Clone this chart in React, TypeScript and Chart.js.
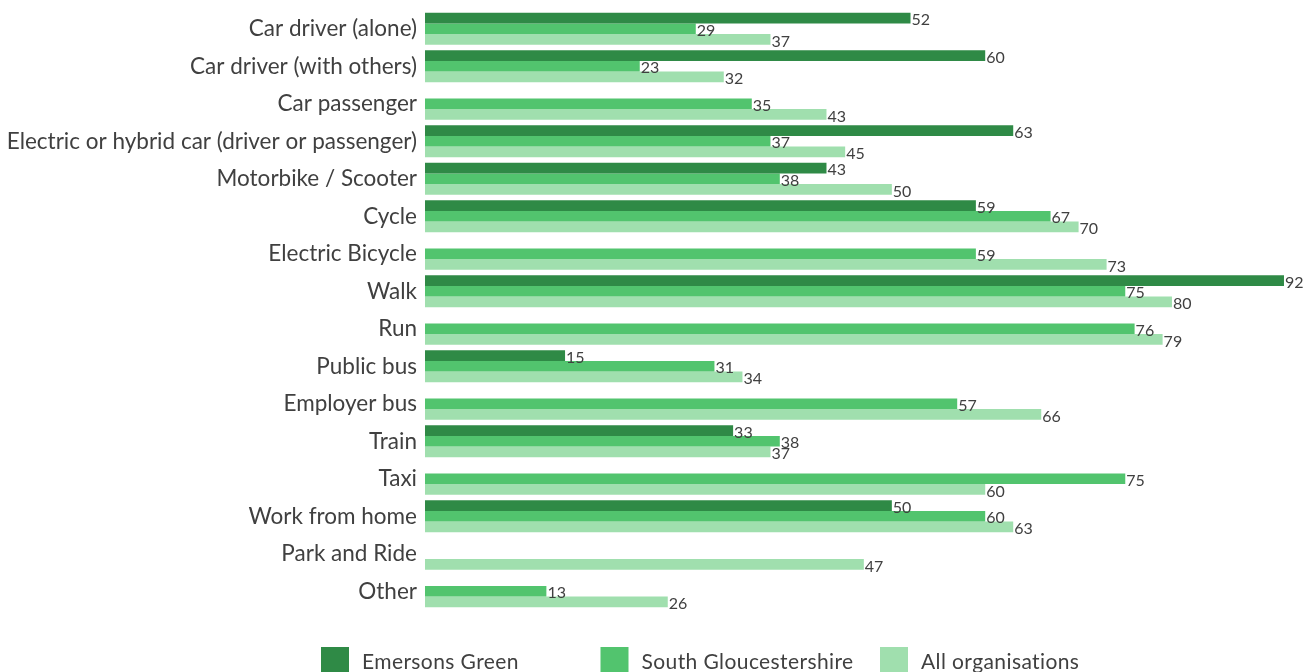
import React, { useEffect, useRef } from "react";
import { Chart, registerables } from "chart.js";

Chart.register(...registerables);

const categories: string[] = [
  "Car driver (alone)",
  "Car driver (with others)",
  "Car passenger",
  "Electric or hybrid car (driver or passenger)",
  "Motorbike / Scooter",
  "Cycle",
  "Electric Bicycle",
  "Walk",
  "Run",
  "Public bus",
  "Employer bus",
  "Train",
  "Taxi",
  "Work from home",
  "Park and Ride",
  "Other",
];

const emersonsGreen: (number | null)[] = [52, 60, null, 63, 43, 59, null, 92, null, 15, null, 33, null, 50, null, null];
const southGlos: (number | null)[] = [29, 23, 35, 37, 38, 67, 59, 75, 76, 31, 57, 38, 75, 60, null, 13];
const allOrgs: (number | null)[] = [37, 32, 43, 45, 50, 70, 73, 80, 79, 34, 66, 37, 60, 63, 47, 26];

const seriesNames = ["Emersons Green", "South Gloucestershire", "All organisations"];
const seriesColors = ["#2F8A46", "#52C46E", "#A0DFAE"];

const FONT = "Lato, 'Noto Sans', sans-serif";
const TEXT = "#404040";

const valueLabels = {
  id: "valueLabels",
  afterDatasetsDraw(chart: any) {
    const ctx = chart.ctx;
    ctx.save();
    ctx.font = `16px ${FONT}`;
    ctx.fillStyle = TEXT;
    ctx.textAlign = "left";
    ctx.textBaseline = "middle";
    chart.data.datasets.forEach((ds: any, di: number) => {
      const meta = chart.getDatasetMeta(di);
      meta.data.forEach((el: any, i: number) => {
        const v = ds.data[i];
        if (v === null || v === undefined) return;
        ctx.fillText(String(v), el.x + 1, el.y + 2);
      });
    });
    ctx.restore();
  },
};

const bottomLegend = {
  id: "bottomLegend",
  afterDraw(chart: any) {
    const ctx = chart.ctx;
    ctx.save();
    const x0 = 321;
    const step = 279.5;
    const top = 647;
    ctx.font = `21px ${FONT}`;
    ctx.textBaseline = "middle";
    ctx.textAlign = "left";
    try {
      (ctx as any).letterSpacing = "0.4px";
    } catch (e) {}
    chart.data.datasets.forEach((ds: any, i: number) => {
      const x = x0 + step * i;
      ctx.fillStyle = ds.backgroundColor;
      ctx.fillRect(x, top, 28, 28);
      ctx.fillStyle = TEXT;
      ctx.fillText(ds.label, x + 41, 662);
    });
    ctx.restore();
  },
};

export default function App() {
  const ref = useRef<HTMLCanvasElement | null>(null);
  useEffect(() => {
    if (!ref.current) return;
    const chart = new Chart(ref.current, {
      type: "bar",
      data: {
        labels: categories,
        datasets: [emersonsGreen, southGlos, allOrgs].map((d, i) => ({
          label: seriesNames[i],
          data: d,
          backgroundColor: seriesColors[i],
          borderWidth: 0,
          categoryPercentage: 0.85,
          barPercentage: 1.0,
        })),
      },
      options: {
        indexAxis: "y",
        animation: false,
        responsive: false,
        maintainAspectRatio: false,
        layout: { padding: { top: 10, bottom: 62, left: 0, right: 0 } },
        plugins: {
          legend: { display: false },
          tooltip: { enabled: false },
        },
        scales: {
          x: {
            min: 0,
            max: 95,
            display: false,
            grid: { display: false },
          },
          y: {
            grid: { display: false },
            border: { display: false },
            ticks: {
              color: TEXT,
              font: { family: FONT, size: 22.5 },
              padding: 0,
              autoSkip: false,
            },
            afterFit: (scale: any) => {
              scale.width = 425;
              scale.paddingTop = 0;
              scale.paddingBottom = 0;
            },
          },
        },
      },
      plugins: [valueLabels, bottomLegend],
    });
    return () => chart.destroy();
  }, []);
  return (
    <div style={{ position: "fixed", left: 0, top: 0, width: 1312, height: 672, background: "#fff" }}>
      <canvas ref={ref} width={1312} height={672} style={{ display: "block" }} />
    </div>
  );
}
